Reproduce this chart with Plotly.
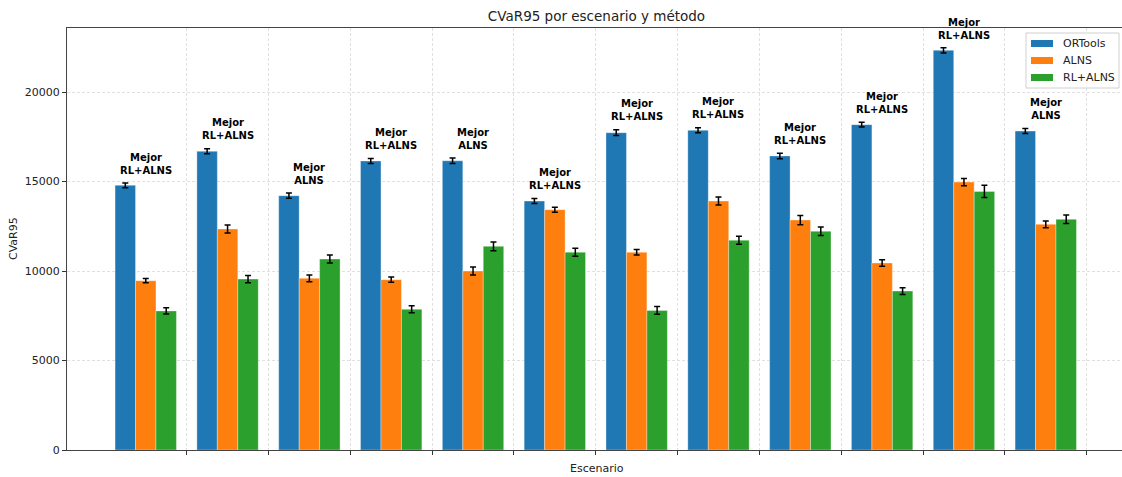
import numpy as np
import plotly.graph_objects as go

# CVaR95 por escenario (media y desviación) para cada método
methods = ["ORTools", "ALNS", "RL+ALNS"]
colors = ["#1f77b4", "#ff7f0e", "#2ca02c"]

ortools_mean = [14790, 16690, 14210, 16150, 16160, 13910, 17730, 17860, 16430, 18180, 22330, 17820]
alns_mean = [9460, 12350, 9590, 9520, 10000, 13430, 11050, 13910, 12850, 10450, 14970, 12610]
rl_alns_mean = [7770, 9550, 10670, 7860, 11380, 11050, 7800, 11720, 12220, 8880, 14450, 12890]

ortools_err = [130, 140, 150, 140, 150, 140, 160, 140, 150, 130, 140, 140]
alns_err = [120, 220, 185, 140, 220, 140, 150, 220, 260, 185, 205, 185]
rl_alns_err = [175, 205, 225, 195, 240, 220, 220, 220, 240, 185, 345, 240]

y_ticks = [0, 5000, 10000, 15000, 20000]

means = np.array([ortools_mean, alns_mean, rl_alns_mean], dtype=float)
errs = np.array([ortools_err, alns_err, rl_alns_err], dtype=float)
n_scen = means.shape[1]
idx = np.arange(n_scen)
bar_w = 0.25

W, H = 1122, 477
ML, MR, MT, MB = 67, 0, 28, 27
PW, PH = W - ML - MR, H - MT - MB
x_min = -0.9625
unit_px = 81.82
x_max = x_min + PW / unit_px
y_max = 23580

FONT = "DejaVu Sans"
TXT = "#222"

fig = go.Figure()
for k, name in enumerate(methods):
    fig.add_trace(go.Bar(
        x=idx + (k - 1) * bar_w,
        y=means[k],
        width=bar_w,
        name=name,
        marker=dict(color=colors[k], line=dict(color="rgba(255,255,255,0.55)", width=0.6)),
        error_y=dict(type="data", array=errs[k], visible=True,
                     color="black", thickness=1.5, width=3),
        showlegend=False,
    ))

annotations = []
# Etiqueta del mejor método (menor CVaR95) sobre cada escenario
tops = (means + errs).max(axis=0)
best = means.argmin(axis=0)
for i in range(n_scen):
    annotations.append(dict(
        x=idx[i], y=tops[i] + 300, xref="x", yref="y",
        text=f"<b>Mejor<br>{methods[best[i]]}</b>",
        showarrow=False, xanchor="center", yanchor="bottom",
        font=dict(family=FONT, size=10, color="black"),
    ))


def px_x(p):
    return (p - ML) / PW


def px_y(p):
    return (MT + PH - p) / PH


# Leyenda
shapes = [dict(type="rect", xref="paper", yref="paper",
               x0=px_x(1026), x1=px_x(1119), y0=px_y(88), y1=px_y(33),
               line=dict(color="#d0d0d0", width=1), fillcolor="rgba(255,255,255,0.85)",
               layer="above")]
for k, name in enumerate(methods):
    cy = 43.5 + 17 * k
    shapes.append(dict(type="rect", xref="paper", yref="paper",
                       x0=px_x(1031), x1=px_x(1053), y0=px_y(cy + 3.5), y1=px_y(cy - 3.5),
                       line=dict(width=0), fillcolor=colors[k], layer="above"))
    annotations.append(dict(x=px_x(1061), y=px_y(cy), xref="paper", yref="paper",
                            text=name, showarrow=False, xanchor="left", yanchor="middle",
                            font=dict(family=FONT, size=11, color=TXT)))

# Títulos de ejes
annotations.append(dict(x=px_x(596.5), y=px_y(468), xref="paper", yref="paper",
                        text="Escenario", showarrow=False,
                        xanchor="center", yanchor="middle",
                        font=dict(family=FONT, size=11, color=TXT)))
annotations.append(dict(x=px_x(13), y=px_y(239), xref="paper", yref="paper",
                        text="CVaR95", textangle=-90, showarrow=False,
                        xanchor="center", yanchor="middle",
                        font=dict(family=FONT, size=11, color=TXT)))

fig.update_layout(
    width=W, height=H,
    margin=dict(l=ML, r=MR, t=MT, b=MB, pad=0),
    paper_bgcolor="white", plot_bgcolor="white",
    barmode="overlay",
    title=dict(text="CVaR95 por escenario y método", xref="paper", x=px_x(596.5),
               xanchor="center", yref="container", y=1 - 16 / H, yanchor="middle",
               font=dict(family=FONT, size=13.5, color=TXT)),
    font=dict(family=FONT, size=11, color=TXT),
    annotations=annotations,
    shapes=shapes,
)
fig.update_xaxes(
    range=[x_min, x_max], tickmode="array", tickvals=idx + 0.5,
    ticktext=[""] * n_scen, ticks="outside", ticklen=4, tickwidth=1, tickcolor="#333",
    showgrid=True, gridcolor="#e0e0e0", gridwidth=0.8, griddash="3px,2px",
    showline=True, linecolor="#444", linewidth=1, mirror=True, zeroline=False,
)
fig.update_yaxes(
    range=[0, y_max], tickmode="array", tickvals=y_ticks,
    ticktext=[str(v) for v in y_ticks],
    ticks="outside", ticklen=4, tickwidth=1, tickcolor="#333",
    tickfont=dict(family=FONT, size=11, color=TXT),
    showgrid=True, gridcolor="#e0e0e0", gridwidth=0.8, griddash="3px,2px",
    showline=True, linecolor="#444", linewidth=1, zeroline=False,
)

fig.write_html("out.html")
